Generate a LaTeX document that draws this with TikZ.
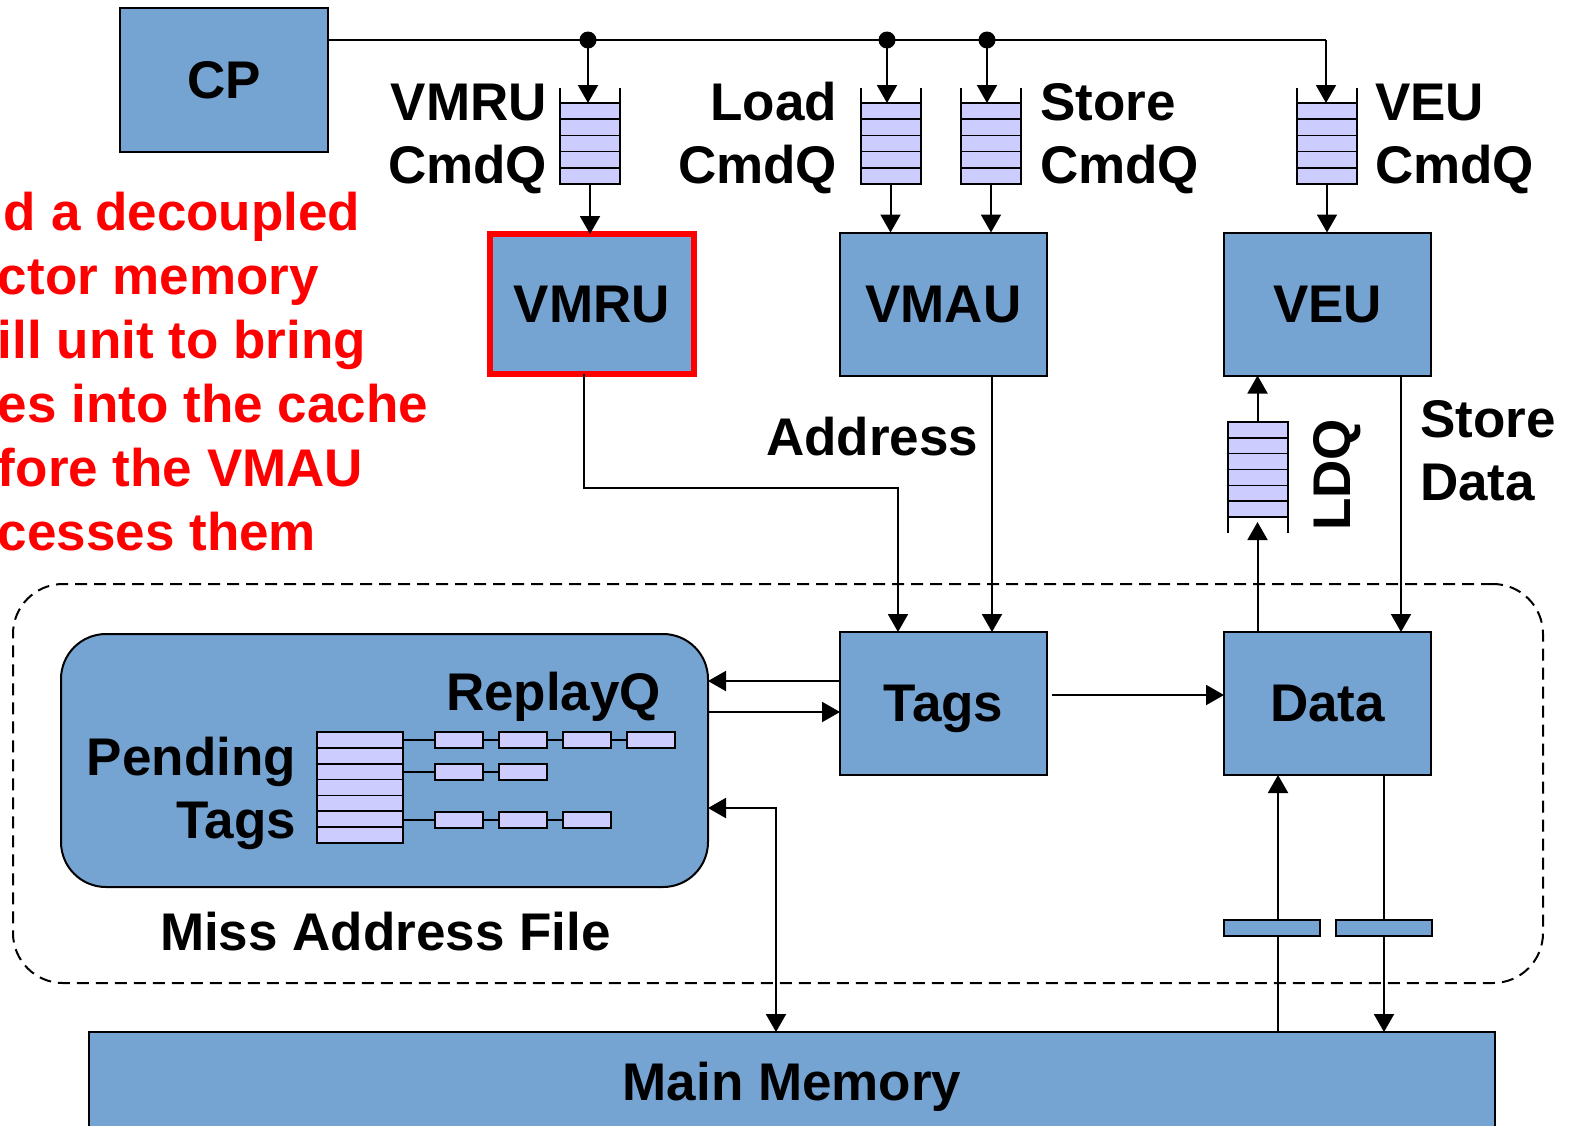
\documentclass[tikz,border=0pt]{standalone}
\usepackage{fontspec}
\setmainfont{Liberation Sans}
\usetikzlibrary{arrows.meta}
\definecolor{unitblue}{RGB}{117,163,210}
\definecolor{qfill}{RGB}{204,204,255}
\definecolor{hotred}{RGB}{255,0,0}

% queue of cells: name, centre x, top y, bottom y, number of cells, width
\newcommand\drawqueue[6]{%
  \node[qbox, minimum width={#6}, minimum height={#4-#3}] (#1) at (#2,{(#3+#4)/2}) {};
  \pgfmathsetmacro\qh{(#4-#3)/#5}%
  \pgfmathsetmacro\qw{#6/2}%
  \pgfmathtruncatemacro\qn{#5-1}%
  \foreach \k in {1,...,\qn}
    \draw[line width=1.6pt] (#2-\qw,{#3+\k*\qh}) -- (#2+\qw,{#3+\k*\qh});
}

\begin{document}
\begin{tikzpicture}[x=1pt,y=-1pt,
  bigfont/.style={font=\bfseries\fontsize{53}{64}\selectfont},
  lbl/.style={bigfont, inner sep=0pt, outer sep=0pt},
  unit/.style={draw=black, line width=2pt, fill=unitblue, inner sep=0pt,
    outer sep=0pt, minimum width=207pt, minimum height=143pt,
    text depth=0pt, bigfont},
  qbox/.style={draw=black, line width=2pt, fill=qfill, inner sep=0pt,
    outer sep=0pt},
  wire/.style={line width=2pt},
  arr/.style={wire, -{Triangle[length=18pt,width=20pt]}},
  dot/.style={circle, fill=black, inner sep=0pt, minimum size=17pt},
  cellbox/.style={draw=black, line width=2pt, fill=qfill, inner sep=0pt,
    outer sep=0pt, minimum width=48pt, minimum height=16pt},
  barbox/.style={draw=black, line width=2pt, fill=unitblue, inner sep=0pt,
    outer sep=0pt, minimum width=96pt, minimum height=16pt},
  redtxt/.style={lbl, text=hotred, anchor=base west}
]
\useasboundingbox (0,0) rectangle (1569,1125);
\clip (0,0) rectangle (1569,1125);

% cache boundary
\node[draw=black, line width=2pt, dash pattern=on 12pt off 7pt,
  rounded corners=50pt, minimum width=1530pt, minimum height=399pt,
  inner sep=0pt] (cache) at (778,783.5) {};

% units
\node[unit, minimum width=208pt, minimum height=144pt] (cp) at (224,80) {CP};
\node[unit, draw=hotred, line width=6pt, minimum width=204pt,
  minimum height=140pt] (vmru) at (592,304) {VMRU};
\node[unit] (vmau) at (943.5,304) {VMAU};
\node[unit] (veu) at (1327.5,304) {VEU};
\node[unit] (tags) at (943.5,703.5) {Tags};
\node[unit] (data) at (1327.5,703.5) {Data};
\node[unit, minimum width=1406pt, minimum height=98pt] (mem) at (792,1081) {};
\node[lbl, anchor=base] (memlbl) at (792,1100) {Main Memory};

% miss address file
\node[draw=black, line width=2pt, fill=unitblue, rounded corners=45pt,
  minimum width=647pt, minimum height=253pt, inner sep=0pt, outer sep=0pt]
  (maf) at (384.5,760.5) {};
\node[lbl, anchor=base west] (maflbl) at (160,950) {Miss Address File};
\node[lbl, anchor=base west] (rqlbl) at (446,710) {ReplayQ};
\node[lbl, anchor=base east] (pend) at (296,775) {Pending};
\node[lbl, anchor=base east] (ptag) at (296,838) {Tags};

% pending tag table and replay lists
\drawqueue{ptab}{360}{732}{843}{7}{86}
\foreach \i/\x in {1/459,2/523,3/587,4/651}
  \node[cellbox] (ra\i) at (\x,740) {};
\foreach \i/\x in {1/459,2/523}
  \node[cellbox] (rb\i) at (\x,772) {};
\foreach \i/\x in {1/459,2/523,3/587}
  \node[cellbox] (rc\i) at (\x,820) {};
\draw[wire] (ptab.east |- ra1) -- (ra1) (ra1) -- (ra2) (ra2) -- (ra3) (ra3) -- (ra4);
\draw[wire] (ptab.east |- rb1) -- (rb1) (rb1) -- (rb2);
\draw[wire] (ptab.east |- rc1) -- (rc1) (rc1) -- (rc2) (rc2) -- (rc3);
\foreach \n in {ra1,ra2,ra3,ra4,rb1,rb2,rc1,rc2,rc3}
  \node[cellbox] at (\n) {};

% command queues
\drawqueue{qvmru}{590}{103}{184}{5}{60}
\drawqueue{qload}{890.5}{103}{184}{5}{60}
\drawqueue{qstore}{991}{103}{184}{5}{60}
\drawqueue{qveu}{1327}{103}{184}{5}{60}
\foreach \q in {qvmru,qload,qstore,qveu}{
  \draw[wire] (\q.north west) -- ++(0,-15);
  \draw[wire] (\q.north east) -- ++(0,-15);
}
\drawqueue{ldq}{1257.5}{422}{517}{6}{60}
\draw[wire] (ldq.south west) -- ++(0,16);
\draw[wire] (ldq.south east) -- ++(0,16);

% command bus
\node[dot] (d1) at (588,40) {};
\node[dot] (d2) at (887,40) {};
\node[dot] (d3) at (987,40) {};
\coordinate (busc) at (1326,40);
\draw[wire] (cp.east |- busc) -- (busc);
\draw[arr] (d1.center) -- (d1 |- qvmru.north);
\draw[arr] (d2.center) -- (d2 |- qload.north);
\draw[arr] (d3.center) -- (d3 |- qstore.north);
\draw[arr] (busc) -- (busc |- qveu.north);
\draw[arr] (qvmru.south) -- (qvmru.south |- vmru.north);
\draw[arr] (qload.south) -- (qload.south |- vmau.north);
\draw[arr] (qstore.south) -- (qstore.south |- vmau.north);
\draw[arr] (qveu.south) -- (qveu.south |- veu.north);

% queue labels
\node[lbl, anchor=base east] (l1a) at (547,120) {VMRU};
\node[lbl, anchor=base east] (l1b) at (547,183) {CmdQ};
\node[lbl, anchor=base east] (l2a) at (837,120) {Load};
\node[lbl, anchor=base east] (l2b) at (837,183) {CmdQ};
\node[lbl, anchor=base west] (l3a) at (1040,120) {Store};
\node[lbl, anchor=base west] (l3b) at (1040,183) {CmdQ};
\node[lbl, anchor=base west] (l4a) at (1375,120) {VEU};
\node[lbl, anchor=base west] (l4b) at (1375,183) {CmdQ};

% address and data paths
\draw[arr] ([xshift=-8pt]vmru.south) -- ++(0,114) -| ([xshift=-45.5pt]tags.north);
\node[lbl, anchor=base west] (addr) at (766,455) {Address};
\draw[arr] ([xshift=48.5pt]vmau.south) -- ([xshift=48.5pt]tags.north);
\draw[arr] ([xshift=73.5pt]veu.south) -- ([xshift=73.5pt]data.north);
\node[lbl, anchor=base west] (sd1) at (1420,437) {Store};
\node[lbl, anchor=base west] (sd2) at (1420,500) {Data};
\draw[arr] (data.north -| ldq) -- ([yshift=-5pt]ldq.south);
\draw[arr] (ldq.north) -- (ldq.north |- veu.south);
\node[lbl, rotate=90, text depth=0pt] (ldqlbl) at (1332,475) {LDQ};

\draw[arr] (tags.west |- 0,681) -- (maf.east |- 0,681);
\draw[arr] (maf.east |- 0,712) -- (tags.west |- 0,712);
\draw[arr] ([xshift=5pt]tags.east |- 0,695) -- (data.west |- 0,695);
\draw[wire, {Triangle[length=18pt,width=20pt]}-{Triangle[length=18pt,width=20pt]}]
  (maf.east |- 0,808) -| (mem.north -| 776,0);

\draw[arr] (mem.north -| 1278,0) -- (data.south -| 1278,0);
\draw[arr] (data.south -| 1384,0) -- (mem.north -| 1384,0);
\node[barbox] (bar1) at (1272,928) {};
\node[barbox] (bar2) at (1384,928) {};

% note
\node[redtxt] (n1) at (4,230) {d a decoupled};
\node[redtxt] (n2) at (-2,294) {ctor memory};
\node[redtxt] (n3) at (-2,358) {ill unit to bring};
\node[redtxt] (n4) at (-2,422) {es into the cache};
\node[redtxt] (n5) at (-2,486) {fore the VMAU};
\node[redtxt] (n6) at (-2,550) {cesses them};
\end{tikzpicture}
\end{document}
